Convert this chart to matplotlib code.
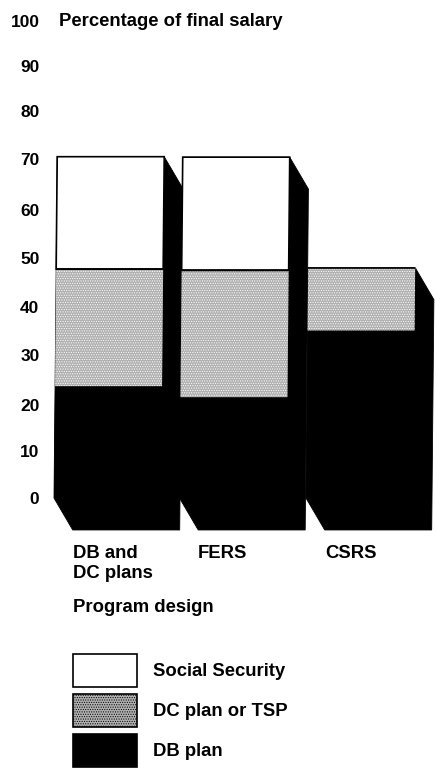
import matplotlib
matplotlib.use('Agg')
import matplotlib.pyplot as plt
from matplotlib.patches import Polygon, Rectangle
from matplotlib.transforms import Affine2D

plt.rcParams['font.family'] = ['Liberation Sans', 'DejaVu Sans']
plt.rcParams['hatch.linewidth'] = 0.5
plt.rcParams['hatch.color'] = '#ffffff'

# Values
programs = ['DB and\nDC plans', 'FERS', 'CSRS']
db_plan = [23.5, 21.2, 35.2]
dc_plan = [24.6, 26.6, 13.2]
social_security = [23.6, 23.8, 0]
y_ticks = [0, 10, 20, 30, 40, 50, 60, 70, 80, 90, 100]
# the printed scale is not quite even, so labels sit where they were printed
y_tick_pos = [0, 9.9, 19.5, 30, 40.2, 50.5, 60.6, 71.2, 81.2, 90.8, 100.2]
legend_labels = ['Social Security', 'DC plan or TSP', 'DB plan']

W, H = 436, 768
GREY = '#b0b0b0'
FS = 13.3


def px_box(x0, y0, x1, y1):
    # figure fractions from pixel coordinates (y measured from the top)
    return [x0 / W, 1 - y1 / H, (x1 - x0) / W, (y1 - y0) / H]


fig = plt.figure(figsize=(W / 100, H / 100), dpi=100, facecolor='white')
# value 100 sits at pixel 21, value 0 at pixel 498
ax = fig.add_axes(px_box(45, 21, 436, 535))
ax.set_xlim(45, 436)
ax.set_ylim(-(535 - 498) / 4.77, 100)
for s in ax.spines.values():
    s.set_visible(False)

# the scan leans slightly, so bars shift right going up
lean = Affine2D.from_values(1, 0, 0.045, 1, 0, 0) + ax.transData

bar_left = [54, 179.5, 306]
bar_w = 107
depth_x = 19
depth_y = 6.7

for i in range(len(programs)):
    x = bar_left[i]
    total = db_plan[i] + dc_plan[i] + social_security[i]
    # black side and floor of the box
    ax.add_patch(Polygon([(x, 0), (x + depth_x, -depth_y), (x + bar_w + depth_x, -depth_y),
                          (x + bar_w + depth_x, total - depth_y), (x + bar_w, total), (x, total)],
                         closed=True, fc='black', ec='black', lw=0.6, transform=lean, clip_on=False, zorder=1))

b1 = ax.bar(bar_left, db_plan, width=bar_w, align='edge', color='black', zorder=2)
b2 = ax.bar(bar_left, dc_plan, bottom=db_plan, width=bar_w, align='edge', color=GREY,
            hatch='.......', edgecolor='white', linewidth=0, zorder=2)
tops = [a + b for a, b in zip(db_plan, dc_plan)]
b3 = ax.bar(bar_left[:2], social_security[:2], bottom=tops[:2], width=bar_w, align='edge',
            color='white', edgecolor='black', linewidth=1.2, zorder=3)
for r in list(b1) + list(b2) + list(b3):
    r.set_transform(lean)
# top line of the shaded sections
ax.hlines(tops, bar_left, [x + bar_w for x in bar_left], color='black', lw=1.2, transform=lean, zorder=4)

ax.set_yticks(y_tick_pos)
ax.set_yticklabels([str(v) for v in y_ticks], fontsize=12.5, fontweight='bold')
ax.tick_params(axis='y', length=0, pad=4)
ax.set_xticks([])

ax.text(59, 100.2, 'Percentage of final salary', fontsize=FS, fontweight='bold', va='center', ha='left')

# program labels
label_x = [73, 198, 325]
for x, lab in zip(label_x, programs):
    fig.text(x / W, 1 - 545 / H, lab, fontsize=FS, fontweight='bold', va='top', ha='left', linespacing=1.2)
fig.text(73 / W, 1 - 607 / H, 'Program design', fontsize=FS, fontweight='bold', va='center', ha='left')

# legend boxes
leg_y = [654, 694, 734]
leg_fc = ['white', GREY, 'black']
leg_hatch = [None, '.......', None]
for y, fc, h, lab in zip(leg_y, leg_fc, leg_hatch, legend_labels):
    fig.add_artist(Rectangle((73 / W, 1 - (y + 33) / H), 64 / W, 33 / H, transform=fig.transFigure,
                             fc=fc, ec='black', lw=1.2, hatch=h))
    fig.text(153 / W, 1 - (y + 17) / H, lab, fontsize=FS, fontweight='bold', va='center', ha='left')

fig.savefig('out.png', dpi=100)
